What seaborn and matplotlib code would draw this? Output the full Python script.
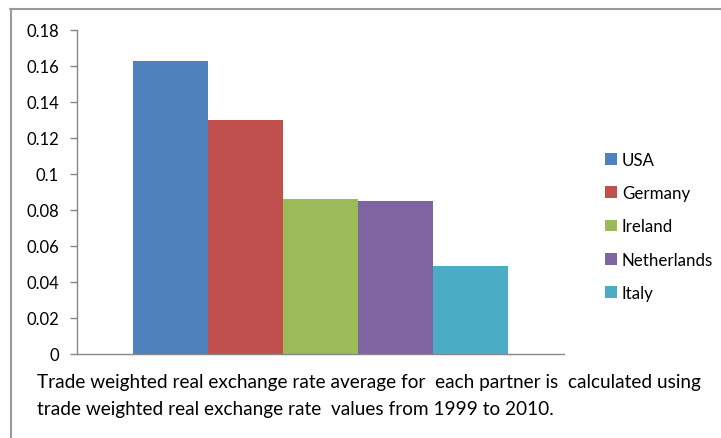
import matplotlib
matplotlib.use("Agg")
import matplotlib.pyplot as plt
from matplotlib.lines import Line2D
import pandas as pd
import seaborn as sns

# Average trade weighted real exchange rate by partner country
countries = ["USA", "Germany", "Ireland", "Netherlands", "Italy"]
values = [0.163, 0.130, 0.086, 0.085, 0.049]
colors = ["#4F81BD", "#C0504D", "#9BBB59", "#8064A2", "#4BACC6"]
yticks = [0, 0.02, 0.04, 0.06, 0.08, 0.1, 0.12, 0.14, 0.16, 0.18]
ytick_labels = ["0", "0.02", "0.04", "0.06", "0.08", "0.1", "0.12", "0.14", "0.16", "0.18"]
caption_lines = [
    "Trade weighted real exchange rate average for  each partner is  calculated using",
    "trade weighted real exchange rate  values from 1999 to 2010.",
]

sns.set_style("white")
plt.rcParams["font.family"] = ["Lato", "DejaVu Sans"]

df = pd.DataFrame({"group": ["all"] * len(countries),
                   "country": countries,
                   "value": values})

W, H = 721, 439
fig = plt.figure(figsize=(W / 100, H / 100), dpi=100)
ax = fig.add_axes([77 / W, (H - 355) / H, (564 - 77) / W, (355 - 31) / H])

sns.barplot(data=df, x="group", y="value", hue="country", hue_order=countries,
            palette=colors, width=0.768, dodge=True, saturation=1,
            errorbar=None, linewidth=0, ax=ax)

ax.set_xlim(-0.5, 0.5)
ax.set_ylim(0, 0.18)
ax.set_yticks(yticks)
ax.set_yticklabels(ytick_labels)
ax.set_xticks([])
ax.set_xlabel("")
ax.set_ylabel("")

axis_color = "#868686"
for side in ["top", "right"]:
    ax.spines[side].set_visible(False)
for side in ["left", "bottom"]:
    ax.spines[side].set_color(axis_color)
    ax.spines[side].set_linewidth(1.0)
ax.tick_params(axis="y", which="major", direction="out", length=5, width=1,
               color=axis_color, left=True, labelsize=12, labelcolor="#000000", pad=8)

leg = ax.legend(loc="upper left", bbox_to_anchor=(605 / W, 1 - 152.5 / H),
                bbox_transform=fig.transFigure, frameon=False, fontsize=12.2,
                handlelength=0.7, handleheight=0.7, handletextpad=0.3,
                labelspacing=1.03, borderaxespad=0, borderpad=0)
for t in leg.get_texts():
    t.set_color("#000000")

# Footnote below the plot
for text, y in zip(caption_lines, [383, 410]):
    fig.text(37 / W, 1 - y / H, text, ha="left", va="center", fontsize=13.7,
             color="#000000")

# Outer chart frame
frame_color = "#9a9a9a"
fig.add_artist(Line2D([10 / W, 1], [1 - 9.5 / H, 1 - 9.5 / H], transform=fig.transFigure,
                      color=frame_color, linewidth=1.5))
fig.add_artist(Line2D([10.5 / W, 10.5 / W], [0, 1 - 9.5 / H], transform=fig.transFigure,
                      color=frame_color, linewidth=1.5))

fig.savefig("out.png", dpi=100, facecolor="white")
